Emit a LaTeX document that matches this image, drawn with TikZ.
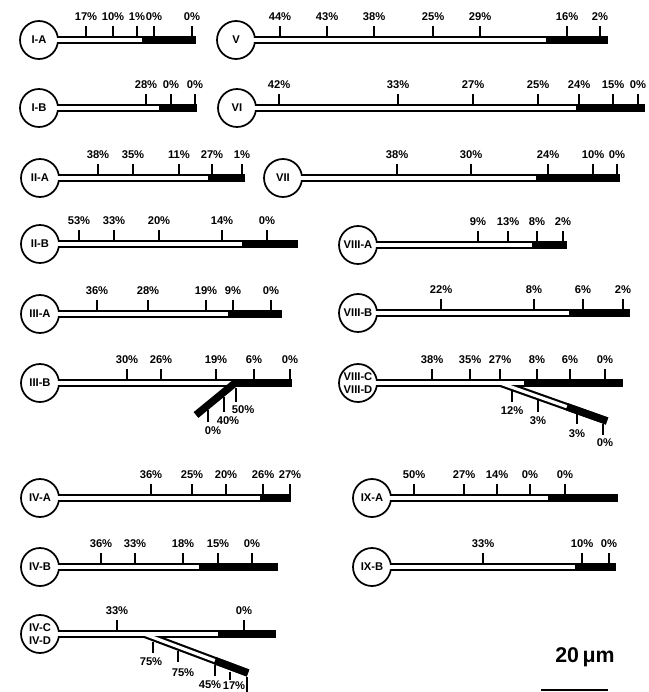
\documentclass[tikz,border=0pt]{standalone}
\usepackage{fontspec}
\setmainfont{Liberation Sans}
\usetikzlibrary{calc}
\newcommand\lbl{\fontsize{8.4pt}{9.5pt}\selectfont\bfseries}
\tikzset{
  soma/.style={circle, draw, line width=1.3pt, minimum size=28.5pt, inner sep=0pt, font=\lbl, align=center},
  tubeout/.style={line width=5.6pt, black},
  tubein/.style={line width=2.4pt, white},
  tubeblk/.style={line width=5.6pt, black},
  tickln/.style={line width=0.85pt},
  pct/.style={font=\lbl, inner sep=0pt},
}
\newcommand\TicksUp[2]{%
  \foreach \ptx/\ptl in {#2} {
    \draw[tickln] (\ptx,#1-3.5) -- (\ptx,#1-14);
    \node[pct] at (\ptx,#1-23) {\ptl\%};
  }%
}
\newcommand\Neuron[6]{%
  \node[soma] (#1) at (#2,#3) {#4};
  \coordinate (#1B) at (#5,#3);
  \coordinate (#1E) at (#6,#3);
  \draw[tubeout] ([xshift=-1.4pt]#1.east) -- (#1E);
  \draw[tubein] ([xshift=-2.4pt]#1.east) -- (#1B);
  \draw[tubeblk] (#1B) -- (#1E);
}
\begin{document}
\begin{tikzpicture}[x=0.75pt,y=-0.75pt]
\useasboundingbox (0,0) rectangle (649,692);

% row 1
\Neuron{ia}{39}{40}{I-A}{142}{196}
\TicksUp{40}{86/17,113/10,137/1,154/0,192/0}
\Neuron{v}{236}{40}{V}{546}{608}
\TicksUp{40}{280/44,327/43,374/38,433/25,480/29,567/16,600/2}
% row 2
\Neuron{ib}{39}{108}{I-B}{159}{197}
\TicksUp{108}{146/28,171/0,195/0}
\Neuron{vi}{237}{108}{VI}{576}{645}
\TicksUp{108}{279/42,398/33,473/27,538/25,579/24,613/15,638/0}
% row 3
\Neuron{iia}{40}{178}{II-A}{208}{245}
\TicksUp{178}{98/38,133/35,179/11,212/27,242/1}
\Neuron{vii}{283}{178}{VII}{536}{620}
\TicksUp{178}{397/38,471/30,548/24,593/10,617/0}
% row 4
\Neuron{iib}{40}{244}{II-B}{242}{298}
\TicksUp{244}{79/53,114/33,159/20,222/14,267/0}
\Neuron{viiia}{358}{245}{VIII-A}{532}{567}
\TicksUp{245}{478/9,508/13,537/8,563/2}
% row 5
\Neuron{iiia}{40}{314}{III-A}{228}{282}
\TicksUp{314}{97/36,148/28,206/19,233/9,271/0}
\Neuron{viiib}{358}{313}{VIII-B}{569}{630}
\TicksUp{313}{441/22,534/8,583/6,623/2}
% row 6: III-B with branch
\Neuron{iiib}{40}{383}{III-B}{233}{292}
\coordinate (iiibJ) at (235,383);
\coordinate (iiibX) at (196,415);
\draw[tubeblk] (iiibJ) -- (iiibX);
\TicksUp{383}{127/30,161/26,216/19,254/6,290/0}
\draw[tickln] (236,388) -- (236,402); \node[pct] (p50) at (243,410) {50\%};
\draw[tickln] (224,397) -- (224,412); \node[pct] (p40) at (228,421) {40\%};
\draw[tickln] (208,410) -- (208,422); \node[pct] (p0) at (213,431) {0\%};
% VIII-C/D
\node[soma] (viiic) at (358,383) {VIII-C\\VIII-D};
\coordinate (vcJ) at (500,383);
\coordinate (vcB) at (524,383);
\coordinate (vcE) at (623,383);
\coordinate (vcX) at (607,421);
\coordinate (vcBB) at ($(vcJ)!0.626!(vcX)$);
\draw[tubeout] ([xshift=-1.4pt]viiic.east) -- (vcE);
\draw[tubeout] (vcJ) -- (vcX);
\draw[tubein] ([xshift=-2.4pt]viiic.east) -- (vcB);
\draw[tubein] (vcJ) -- (vcBB);
\draw[tubeblk] (vcB) -- (vcE);
\draw[tubeblk] (vcBB) -- (vcX);
\TicksUp{383}{432/38,470/35,500/27,537/8,570/6,605/0}
\draw[tickln] (512,391) -- (512,402); \node[pct] at (512,411) {12\%};
\draw[tickln] (538,400) -- (538,412); \node[pct] at (538,421) {3\%};
\draw[tickln] (577,414) -- (577,424); \node[pct] at (577,434) {3\%};
\draw[tickln] (603,424) -- (603,435); \node[pct] at (605,443) {0\%};
% row 7
\Neuron{iva}{40}{498}{IV-A}{260}{291}
\TicksUp{498}{151/36,192/25,226/20,263/26,290/27}
\Neuron{ixa}{372}{498}{IX-A}{548}{618}
\TicksUp{498}{414/50,464/27,497/14,530/0,565/0}
% row 8
\Neuron{ivb}{40}{567}{IV-B}{199}{278}
\TicksUp{567}{101/36,135/33,183/18,218/15,252/0}
\Neuron{ixb}{372}{567}{IX-B}{575}{616}
\TicksUp{567}{483/33,582/10,609/0}
% IV-C/D
\node[soma] (ivc) at (40,634) {IV-C\\IV-D};
\coordinate (icJ) at (144,634);
\coordinate (icB) at (218,634);
\coordinate (icE) at (276,634);
\coordinate (icX) at (248,673);
\coordinate (icBB) at ($(icJ)!0.683!(icX)$);
\draw[tubeout] ([xshift=-1.4pt]ivc.east) -- (icE);
\draw[tubeout] (icJ) -- (icX);
\draw[tubein] ([xshift=-2.4pt]ivc.east) -- (icB);
\draw[tubein] (icJ) -- (icBB);
\draw[tubeblk] (icB) -- (icE);
\draw[tubeblk] (icBB) -- (icX);
\TicksUp{634}{117/33,244/0}
\draw[tickln] (153,642) -- (153,653); \node[pct] at (151,662) {75\%};
\draw[tickln] (178,651) -- (178,662); \node[pct] at (183,673) {75\%};
\draw[tickln] (215,665) -- (215,676); \node[pct] at (210,685) {45\%};
\draw[tickln] (230,672) -- (230,680); \node[pct] at (234,686) {17\%};
\draw[tickln] (247,677) -- (247,692);
% scale bar
\node[font=\bfseries\fontsize{16pt}{18pt}\selectfont, inner sep=0pt] (sb) at (585,657) {20\,μm};
\coordinate (sbL) at (541,690);
\coordinate (sbR) at (608,690);
\draw[line width=1.6pt] (sbL) -- (sbR);
\end{tikzpicture}
\end{document}
